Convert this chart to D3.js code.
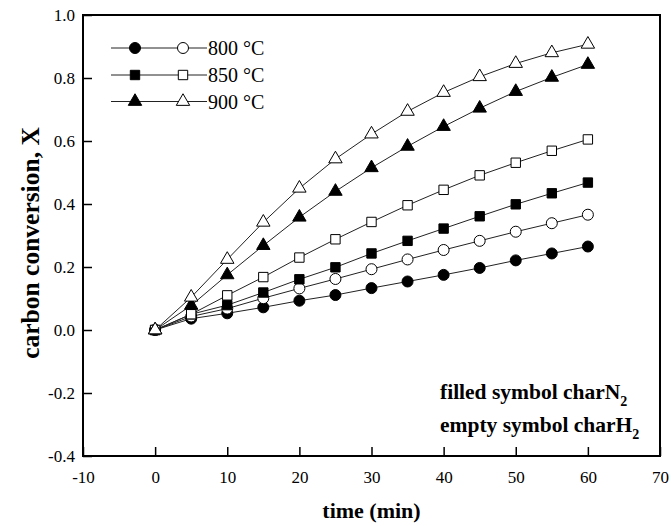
<!DOCTYPE html>
<html>
<head>
<meta charset="utf-8">
<script src="https://cdn.jsdelivr.net/npm/d3@7"></script>
<style>
    body { margin: 0; background: #fff; }
    svg text { font-family: "Liberation Serif", "Times New Roman", serif; }
</style>
</head>
<body>
<div id="chart"></div>
<script>
// time (min)
const times = [0, 5, 10, 15, 20, 25, 30, 35, 40, 45, 50, 55, 60];

// carbon conversion, filled = char N2, empty = char H2
const n2_800 = [0, 0.036, 0.053, 0.072, 0.093, 0.111, 0.133, 0.154, 0.175, 0.197, 0.221, 0.243, 0.265];
const h2_800 = [0, 0.043, 0.068, 0.101, 0.132, 0.162, 0.193, 0.224, 0.254, 0.283, 0.312, 0.339, 0.366];
const n2_850 = [0, 0.050, 0.079, 0.119, 0.161, 0.199, 0.243, 0.283, 0.322, 0.361, 0.399, 0.434, 0.468];
const h2_850 = [0, 0.050, 0.110, 0.168, 0.230, 0.288, 0.343, 0.396, 0.445, 0.491, 0.531, 0.569, 0.605];
const n2_900 = [0, 0.078, 0.175, 0.268, 0.358, 0.440, 0.515, 0.583, 0.646, 0.704, 0.757, 0.802, 0.843];
const h2_900 = [0, 0.104, 0.224, 0.342, 0.450, 0.543, 0.622, 0.694, 0.754, 0.804, 0.846, 0.880, 0.907];

const xTicks = [-10, 0, 10, 20, 30, 40, 50, 60, 70];
const yTicks = [-0.4, -0.2, 0.0, 0.2, 0.4, 0.6, 0.8, 1.0];
const legendLabels = ["800 \u00B0C", "850 \u00B0C", "900 \u00B0C"];

const series = [
    { values: n2_800, shape: d3.symbolCircle, size: 95, filled: true },
    { values: h2_800, shape: d3.symbolCircle, size: 95, filled: false },
    { values: n2_850, shape: d3.symbolSquare, size: 88, filled: true },
    { values: h2_850, shape: d3.symbolSquare, size: 88, filled: false },
    { values: n2_900, shape: d3.symbolTriangle, size: 78, filled: true },
    { values: h2_900, shape: d3.symbolTriangle, size: 78, filled: false }
];

const W = 672, H = 526;
const margin = { top: 15, right: 12, bottom: 70, left: 83 };

const svg = d3.select("#chart").append("svg")
    .attr("width", W)
    .attr("height", H);

const x = d3.scaleLinear().domain([-10, 70]).range([margin.left, W - margin.right]);
const y = d3.scaleLinear().domain([-0.4, 1.0]).range([H - margin.bottom, margin.top]);

// axes, ticks pointing inward, plain hyphen for negatives
const xAxis = svg.append("g")
    .attr("transform", `translate(0, ${H - margin.bottom})`)
    .call(d3.axisBottom(x).tickValues(xTicks).tickSizeInner(-9).tickSizeOuter(0).tickPadding(15)
        .tickFormat(d => String(d)));
xAxis.selectAll(".tick text").attr("font-size", 17).attr("fill", "#000")
    .attr("font-family", "Liberation Serif");
xAxis.selectAll(".tick line").attr("stroke-width", 1.5);

const yAxis = svg.append("g")
    .attr("transform", `translate(${margin.left}, 0)`)
    .call(d3.axisLeft(y).tickValues(yTicks).tickSizeInner(-9).tickSizeOuter(0).tickPadding(8)
        .tickFormat(d => d.toFixed(1)));
yAxis.selectAll(".tick text").attr("font-size", 17).attr("fill", "#000")
    .attr("font-family", "Liberation Serif");
yAxis.selectAll(".tick line").attr("stroke-width", 1.5);
svg.selectAll(".domain").remove();

// frame
svg.append("rect")
    .attr("x", margin.left)
    .attr("y", margin.top)
    .attr("width", W - margin.left - margin.right)
    .attr("height", H - margin.top - margin.bottom)
    .attr("fill", "none")
    .attr("stroke", "#000")
    .attr("stroke-width", 2);

// lines
const line = d3.line()
    .x((d, i) => x(times[i]))
    .y(d => y(d));

series.forEach(s => {
    svg.append("path")
        .datum(s.values)
        .attr("d", line)
        .attr("fill", "none")
        .attr("stroke", "#222")
        .attr("stroke-width", 1);
});

// markers
series.forEach(s => {
    svg.append("g").selectAll("path")
        .data(s.values)
        .enter()
        .append("path")
        .attr("transform", (d, i) => `translate(${x(times[i])}, ${y(d)})`)
        .attr("d", d3.symbol().type(s.shape).size(s.size))
        .attr("fill", s.filled ? "#000" : "#fff")
        .attr("stroke", "#000")
        .attr("stroke-width", 1);
});

// legend
const legendRows = [48, 75, 101.5];
legendLabels.forEach((label, k) => {
    const g = svg.append("g").attr("transform", `translate(0, ${legendRows[k]})`);
    g.append("line")
        .attr("x1", 111).attr("x2", 207)
        .attr("stroke", "#222").attr("stroke-width", 1);
    [series[2 * k], series[2 * k + 1]].forEach((s, j) => {
        g.append("path")
            .attr("transform", `translate(${j === 0 ? 135 : 183}, 0)`)
            .attr("d", d3.symbol().type(s.shape).size(s.size))
            .attr("fill", s.filled ? "#000" : "#fff")
            .attr("stroke", "#000");
    });
    g.append("text")
        .attr("x", 208)
        .attr("y", 7)
        .attr("font-size", 20)
        .text(label);
});

// notes
const notes = [["filled symbol charN", 399], ["empty symbol charH", 432]];
notes.forEach(([txt, yy]) => {
    const t = svg.append("text")
        .attr("x", 440)
        .attr("y", yy)
        .attr("font-size", 21.5)
        .attr("font-weight", "bold");
    t.append("tspan").text(txt);
    t.append("tspan").attr("dy", 7).attr("font-size", 14).text("2");
});

// axis titles
svg.append("text")
    .attr("x", (margin.left + W - margin.right) / 2)
    .attr("y", 518)
    .attr("text-anchor", "middle")
    .attr("font-size", 22)
    .attr("font-weight", "bold")
    .text("time (min)");

svg.append("text")
    .attr("transform", "translate(39, 243) rotate(-90)")
    .attr("text-anchor", "middle")
    .attr("font-size", 25.5)
    .attr("font-weight", "bold")
    .text("carbon conversion, X");
</script>
</body>
</html>
